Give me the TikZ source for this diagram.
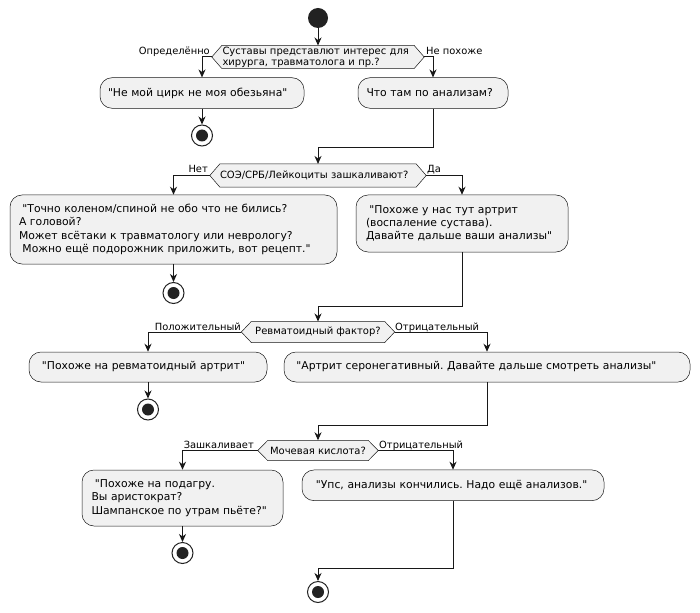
\documentclass[tikz,border=0pt]{standalone}
\usepackage{fontspec}
\setmainfont{DejaVu Sans}[Ligatures=TeXOff]
\usetikzlibrary{arrows.meta,backgrounds}
\definecolor{lc}{HTML}{181818}
\definecolor{bf}{HTML}{F1F1F1}
\definecolor{dk}{HTML}{222222}
\frenchspacing
\newcommand\lsp{\hspace*{0.318em}}
\newcommand\hexfill[1]{%
  \begin{scope}[on background layer]
    \draw[hexline] (#1.west) -- ([xshift=10pt]#1.north west) -- ([xshift=-10pt]#1.north east)
      -- (#1.east) -- ([xshift=-10pt]#1.south east) -- ([xshift=10pt]#1.south west) -- cycle;
  \end{scope}}
\begin{document}
\begin{tikzpicture}[x=1pt,y=-1pt,
  act/.style={rectangle, rounded corners=12pt, draw=lc, line width=0.5pt, fill=bf, align=left,
    inner ysep=2pt, font=\fontsize{10.8}{13.2}\selectfont\frenchspacing},
  dec/.style={inner ysep=0pt, font=\fontsize{10}{11}\selectfont},
  hexline/.style={draw=lc, line width=0.5pt, fill=bf},
  lbl/.style={inner sep=0pt, font=\fontsize{9.9}{12}\selectfont},
  flow/.style={draw=lc, line width=1pt, -{Stealth[length=8pt,width=7pt,inset=2.5pt]}},
  startc/.style={circle, fill=dk, minimum size=20pt, inner sep=0pt},
  stopc/.style={circle, draw=dk, line width=1pt, fill=white, minimum size=21pt, inner sep=0pt,
    path picture={\fill[dk] (path picture bounding box.center) circle (6pt);}}]
\begin{scope}[on background layer]
  \fill[white] (0,0) rectangle (700,612);
\end{scope}
\useasboundingbox (0,0) rectangle (700,612);

% row 1
\node[startc] (st) at (318,18) {};
\node[dec, minimum width=212pt, minimum height=22.6pt, text width=191pt, inner xsep=10.5pt, align=left] (d1) at (318,57)
  {Суставы представлют интерес для\\хирурга, травматолога и пр.?};
\hexfill{d1}
\node[act, minimum width=204pt, minimum height=30.6pt, text width=188pt, inner xsep=8pt] (b1) at (202,93)
  {"Не мой цирк не моя обезьяна"};
\node[act, minimum width=150pt, minimum height=30.6pt, text width=133pt, inner xsep=8.5pt] (b2) at (433,93)
  {Что там по анализам?};
\node[stopc] (e1) at (202,135.5) {};
\node[lbl, anchor=base east] (l1) at (210,55) {Определённо};
\node[lbl, anchor=base west] (l2) at (426,55) {Не похоже};

% row 2
\node[dec, minimum width=216pt, minimum height=22.7pt, text width=196pt, inner xsep=10pt, align=left] (d2) at (318,175.5)
  {СОЭ/СРБ/Лейкоциты зашкаливают?};
\hexfill{d2}
\node[act, minimum width=327pt, minimum height=69pt, text width=309pt, inner xsep=9pt] (b3) at (173.5,229.5)
  {\lsp"Точно коленом/спиной не обо что не бились?\\А головой?\\Может всётаки к травматологу или неврологу?\\\lsp Можно ещё подорожник приложить, вот рецепт."};
\node[act, minimum width=212pt, minimum height=57pt, text width=192pt, inner xsep=10pt] (b4) at (462,223.5)
  {\lsp"Похоже у нас тут артрит\\(воспаление сустава).\\Давайте дальше ваши анализы"};
\node[stopc] (e2) at (173.5,293) {};
\node[lbl, anchor=base east] (l3) at (208,173) {Нет};
\node[lbl, anchor=base west] (l4) at (427,173) {Да};

% row 3
\node[dec, minimum width=153pt, minimum height=20.6pt] (d3) at (318,332) {Ревматоидный фактор?};
\hexfill{d3}
\node[act, minimum width=238pt, minimum height=30pt, text width=219pt, inner xsep=9.5pt] (b5) at (148,367)
  {\lsp"Похоже на ревматоидный артрит"};
\node[act, minimum width=406pt, minimum height=30pt, text width=388pt, inner xsep=9pt] (b6) at (487,367)
  {\lsp"Артрит серонегативный. Давайте дальше смотреть анализы"};
\node[stopc] (e3) at (148,409.5) {};
\node[lbl, anchor=base east] (l5) at (241,330) {Положительный};
\node[lbl, anchor=base west] (l6) at (395,330) {Отрицательный};

% row 4
\node[dec, minimum width=120pt, minimum height=20pt] (d4) at (318,450.5) {Мочевая кислота?};
\hexfill{d4}
\node[act, minimum width=201pt, minimum height=56pt, text width=182pt, inner xsep=9.5pt] (b7) at (182.5,498)
  {\lsp"Похоже на подагру.\\Вы аристократ?\\Шампанское по утрам пьёте?"};
\node[act, minimum width=302pt, minimum height=30.7pt, text width=281pt, inner xsep=10.5pt] (b8) at (453,485.3)
  {\lsp"Упс, анализы кончились. Надо ещё анализов."};
\node[stopc] (e4) at (182.5,553) {};
\node[stopc] (e5) at (318,592) {};
\node[lbl, anchor=base east] (l7) at (254,448.5) {Зашкаливает};
\node[lbl, anchor=base west] (l8) at (379,448.5) {Отрицательный};

% connectors
\coordinate (m1) at (318,148);
\coordinate (m2) at (318,306);
\coordinate (m3) at (318,425);
\coordinate (m4) at (318,568);
\draw[flow] (st.south) -- (d1.north);
\draw[flow] (d1.west) -| (b1.north);
\draw[flow] (d1.east) -| (b2.north);
\draw[flow] (b1.south) -- (e1.north);
\draw[flow] (b2.south) |- (m1) -- (d2.north);
\draw[flow] (d2.west) -| (b3.north);
\draw[flow] (d2.east) -| (b4.north);
\draw[flow] (b3.south) -- (e2.north);
\draw[flow] (b4.south) |- (m2) -- (d3.north);
\draw[flow] (d3.west) -| (b5.north);
\draw[flow] (d3.east) -| (b6.north);
\draw[flow] (b5.south) -- (e3.north);
\draw[flow] (b6.south) |- (m3) -- (d4.north);
\draw[flow] (d4.west) -| (b7.north);
\draw[flow] (d4.east) -| (b8.north);
\draw[flow] (b7.south) -- (e4.north);
\draw[flow] (b8.south) |- (m4) -- (e5.north);
\end{tikzpicture}
\end{document}
